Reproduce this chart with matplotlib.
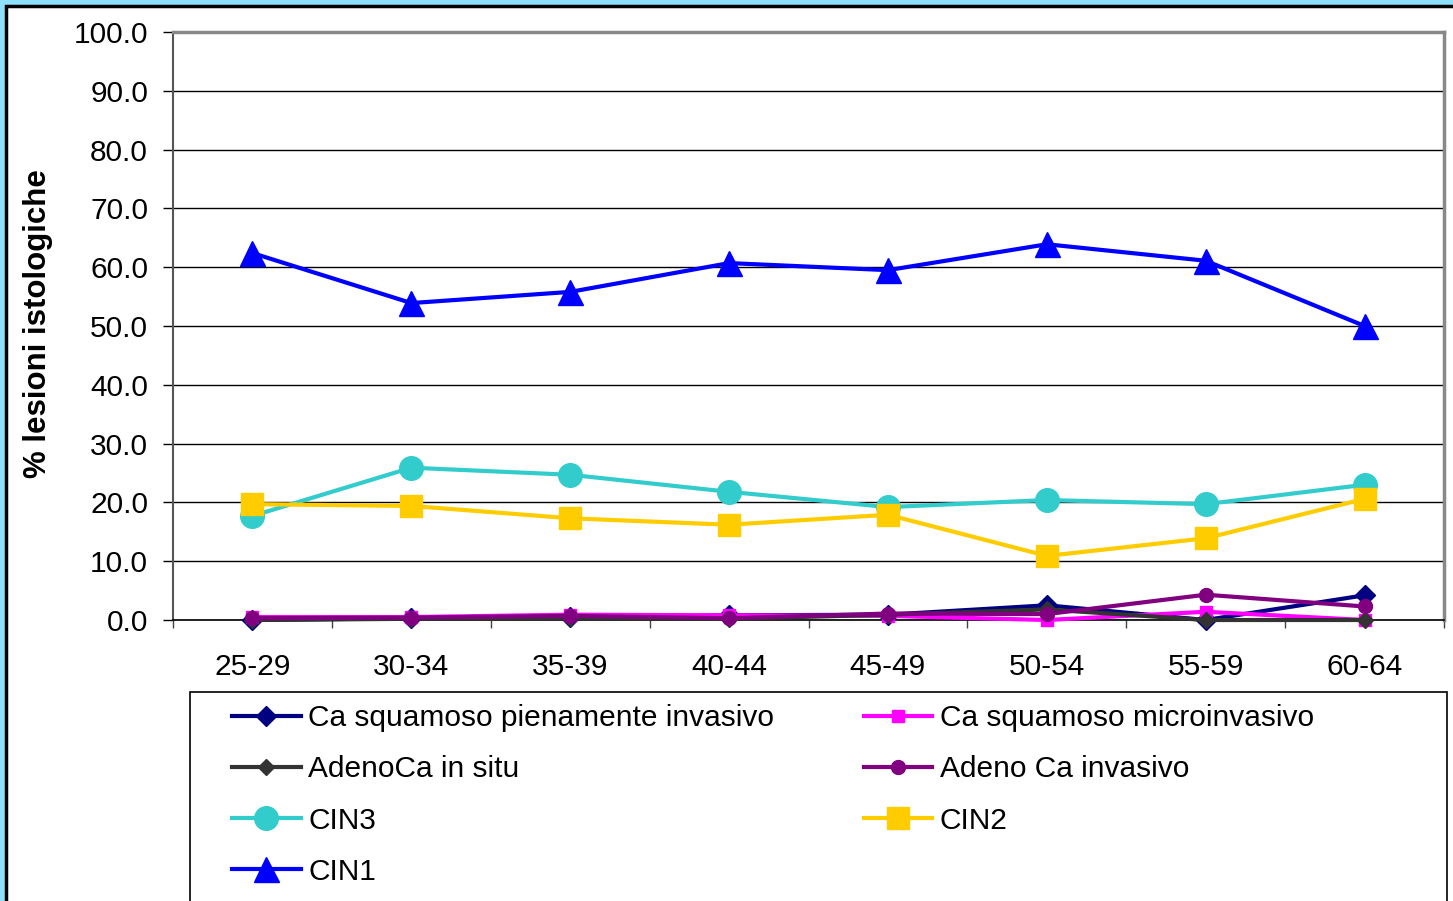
import matplotlib
matplotlib.use("Agg")
import matplotlib.pyplot as plt
from matplotlib.patches import Rectangle
from matplotlib.ticker import FormatStrFormatter

plt.rcParams['font.family'] = ['Liberation Sans', 'DejaVu Sans']

age_groups = ["25-29", "30-34", "35-39", "40-44", "45-49", "50-54", "55-59", "60-64"]

ca_squam_inv = [0.0, 0.3, 0.5, 0.8, 0.9, 2.5, 0.0, 4.2]
ca_squam_micro = [0.5, 0.5, 0.9, 0.8, 0.7, 0.0, 1.4, 0.0]
adenoca_situ = [0.0, 0.2, 0.3, 0.2, 0.9, 1.8, 0.0, 0.0]
adenoca_inv = [0.3, 0.4, 0.7, 0.3, 1.1, 1.0, 4.3, 2.3]
cin3 = [17.7, 25.9, 24.7, 21.8, 19.2, 20.4, 19.7, 23.0]
cin2 = [19.7, 19.4, 17.3, 16.2, 17.9, 10.9, 13.9, 20.6]
cin1 = [62.4, 53.9, 55.8, 60.7, 59.5, 63.9, 61.1, 50.0]

W, H = 1453, 901
fig = plt.figure(figsize=(W / 100, H / 100), dpi=100)
fig.patch.set_facecolor('#8fe0fa')
# white page with black frame (left/top visible)
fig.patches.append(Rectangle((6 / W, -0.05), 1.1, 1 - 6 / H + 0.05, transform=fig.transFigure,
                             facecolor='white', edgecolor='black', linewidth=2.5, zorder=-5))

ax = fig.add_axes([173 / W, 1 - 620 / H, (1444 - 173) / W, (620 - 32) / H])
ax.set_zorder(2)
x = list(range(len(age_groups)))

series = [
    ("Ca squamoso pienamente invasivo", ca_squam_inv, '#000080', 'D', 10.5),
    ("Ca squamoso microinvasivo", ca_squam_micro, '#ff00ff', 's', 8.5),
    ("AdenoCa in situ", adenoca_situ, '#333333', 'D', 8),
    ("Adeno Ca invasivo", adenoca_inv, '#800080', 'o', 10),
    ("CIN3", cin3, '#33cccc', 'o', 17),
    ("CIN2", cin2, '#ffcc00', 's', 16),
    ("CIN1", cin1, '#0000ff', '^', 18),
]
handles = {}
for i, (name, vals, col, mk, ms) in enumerate(series):
    h, = ax.plot(x, vals, color=col, marker=mk, markersize=ms, linewidth=3,
                 label=name, zorder=3 + i, clip_on=False)
    handles[name] = h

ax.set_xlim(-0.5, len(age_groups) - 0.5)
ax.set_ylim(0, 100)
ax.set_yticks(range(0, 101, 10))
ax.yaxis.set_major_formatter(FormatStrFormatter('%.1f'))
ax.yaxis.grid(True, color='black', linewidth=1)
ax.set_axisbelow(True)

ax.set_xticks(x)
ax.set_xticklabels(age_groups)
ax.set_xticks([i - 0.5 for i in range(len(age_groups) + 1)], minor=True)
ax.tick_params(axis='x', which='major', length=0, pad=24, labelsize=21.5)
ax.tick_params(axis='x', which='minor', length=6, width=1, color='#444444')
ax.tick_params(axis='y', length=7, width=1, pad=11, labelsize=21.5)

for s in ['top', 'right']:
    ax.spines[s].set_color('#888888')
    ax.spines[s].set_linewidth(2.5)
ax.spines['left'].set_color('#555555')
ax.spines['left'].set_linewidth(1.5)
ax.spines['bottom'].set_color('black')
ax.spines['bottom'].set_linewidth(1.2)

fig.text(38 / W, 1 - 324 / H, "% lesioni istologiche", rotation=90, fontsize=22.5,
         fontweight='bold', ha='center', va='center')

# legend box
fig.patches.append(Rectangle((190 / W, -0.05), (1447 - 190) / W, 1 - 692 / H + 0.05,
                             transform=fig.transFigure, facecolor='white',
                             edgecolor='black', linewidth=1.2, zorder=1))
order = ["Ca squamoso pienamente invasivo", "AdenoCa in situ", "CIN3", "CIN1",
         "Ca squamoso microinvasivo", "Adeno Ca invasivo", "CIN2"]
leg = fig.legend([handles[n] for n in order], order, ncol=2, frameon=False,
                 loc='upper left', bbox_to_anchor=(232 / W, 1 - 704 / H),
                 fontsize=21.5, handlelength=2.3, handletextpad=0.25,
                 labelspacing=0.78, columnspacing=3.0, borderpad=0, borderaxespad=0)
leg.set_zorder(5)

fig.savefig("out.png", dpi=100)
